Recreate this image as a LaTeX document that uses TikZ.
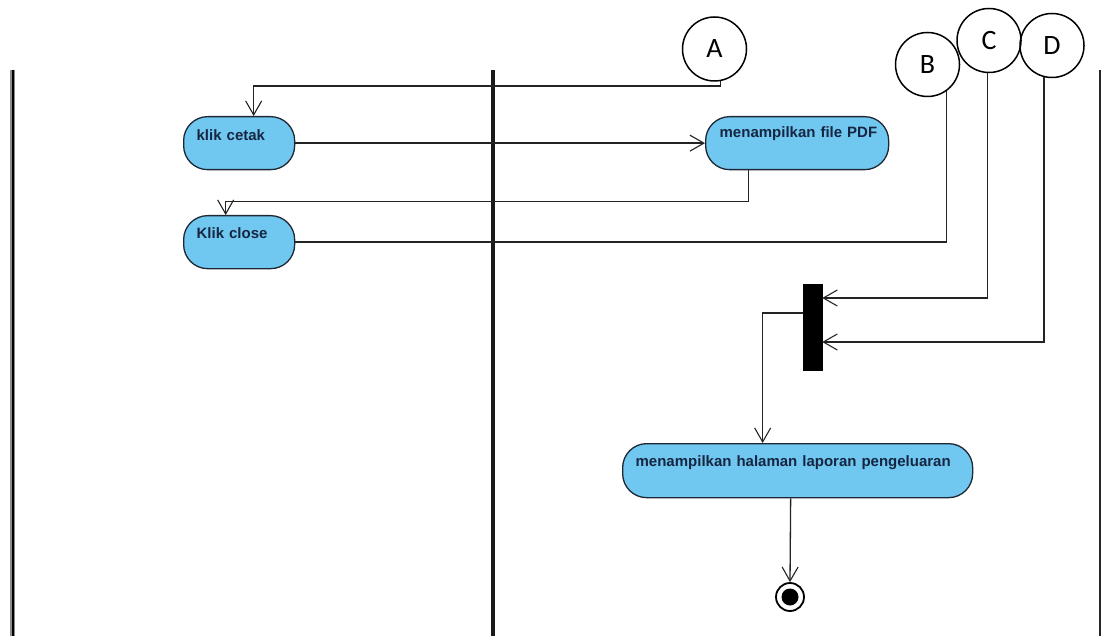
\documentclass[tikz,border=0pt]{standalone}
\usepackage{fontspec}
\usetikzlibrary{arrows.meta}
\newfontfamily\actfont{Liberation Sans}
\newfontfamily\connfont{Carlito}
\definecolor{actfill}{RGB}{112,200,240}
\definecolor{actdraw}{RGB}{30,40,52}
\definecolor{acttext}{RGB}{22,38,66}
\definecolor{flowline}{RGB}{35,35,35}
\begin{document}
\begin{tikzpicture}[x=1pt,y=-1pt,
  act/.style={draw=actdraw, fill=actfill, line width=1.3pt, rounded corners=24pt,
    anchor=north west, inner xsep=0pt, inner ysep=0pt, align=left,
    text=acttext, font=\actfont\bfseries\fontsize{15}{15}\selectfont,
    text height=23pt, text depth=30pt},
  conn/.style={circle, draw=black, line width=1.5pt, minimum size=64pt, inner sep=0pt,
    font=\connfont\fontsize{28}{28}\selectfont},
  flow/.style={draw=flowline, line width=1.3pt},
  tip/.style={flow, -{Straight Barb[length=14pt,width=16pt,line width=1.1pt]}},
  lane/.style={line width=3.5pt, draw=black!90}
]
\useasboundingbox (0,0) rectangle (1102,636);

% swimlane separators
\draw[line width=5pt, draw=black!45] (12.5,70) -- (12.5,636);
\draw[line width=2pt, draw=black] (12.5,70) -- (12.5,636);
\draw[lane] (493,70) -- (493,636);
\draw[line width=2.5pt, draw=black!85] (1100,70) -- (1100,636);

% off-page connectors
\node[conn] (A) at (714.5,49) {A};
\node[conn] (B) at (927.5,64.5) {B};
\node[conn] (C) at (989,40.5) {C};
\node[conn] (D) at (1052,45.5) {D};

% actions
\node[act, text width=111pt, text height=24pt, text depth=29pt] (kc) at (183,116) {\hspace*{13pt}klik cetak};
\node[act, text width=111pt] (kcl) at (183,215) {\hspace*{13pt}Klik close};
\node[act, text width=183pt, text height=21pt, text depth=32pt] (pdf) at (705,116) {\hspace*{14pt}menampilkan file PDF};
\node[act, text width=350pt, text depth=31pt] (lap) at (622,443) {\hspace*{13pt}menampilkan halaman laporan pengeluaran};

% join bar
\node[draw=black, fill=black, minimum width=19pt, minimum height=86pt, inner sep=0pt] (bar) at (812.5,327) {};

% final node
\node[circle, draw=black, line width=1.8pt, minimum size=28pt, inner sep=0pt,
  path picture={\fill[black] (path picture bounding box.center) circle (8.5pt);}] (end) at (790,597) {};

% control flows
\draw[tip] (A.-80) |- ([xshift=14.5pt,yshift=30pt]kc.north) -- ([xshift=14.5pt]kc.north);
\draw[tip] (kc.east) -- (pdf.west);
\draw[tip] ([xshift=-48.5pt]pdf.south) -- ++(0,31) -| ([xshift=-13.5pt]kcl.north);
\draw[flow] (kcl.east) -| (B.-54);
\draw[tip] (C.-93) |- ([yshift=29pt]bar.east);
\draw[tip] (D.-104) |- ([yshift=-15pt]bar.east);
\draw[tip] ([yshift=14pt]bar.west) -| ([xshift=-35pt]lap.north);
\draw[tip] ([xshift=-7pt]lap.south) -- (end.north);
\end{tikzpicture}
\end{document}
